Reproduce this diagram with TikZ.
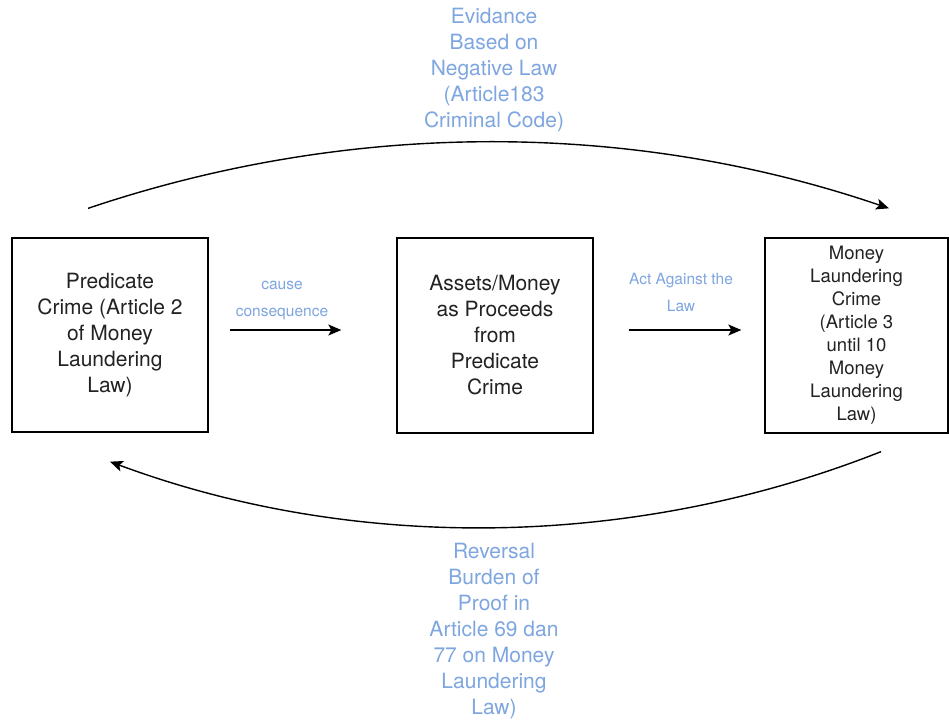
\documentclass[tikz,border=0pt]{standalone}
\usepackage{fontspec}
\setmainfont{TeX Gyre Heros}
\usetikzlibrary{arrows.meta}
\definecolor{lblue}{HTML}{7EA6E0}
\definecolor{txt}{HTML}{222222}
\begin{document}
\begin{tikzpicture}[x=1pt,y=-1pt,
  box/.style={draw=black, line width=1.3pt, text=txt, align=center, inner sep=0pt},
  boxfont/.style={font=\fontsize{21}{26}\selectfont},
  smallbox/.style={font=\fontsize{18.5}{23}\selectfont},
  lab/.style={text=lblue, align=center, font=\fontsize{21}{26}\selectfont, inner sep=0pt},
  slab/.style={text=lblue, align=center, font=\fontsize{15.5}{27}\selectfont, inner sep=0pt},
  arr/.style={draw=black, line width=1.4pt, -{Stealth[length=13pt,width=11pt,inset=3pt]}},
  curv/.style={draw=black, line width=1.4pt, -{Stealth[length=13pt,width=11pt,inset=3pt]}}]
\useasboundingbox (0,0) rectangle (949,722);
\fill[white] (0,0) rectangle (949,722);

\node[box, boxfont, minimum width=196pt, minimum height=194pt] (pc) at (110,335)
  {Predicate\\Crime (Article 2\\of Money\\Laundering\\Law)};
\node[box, boxfont, minimum width=196pt, minimum height=195pt] (mid) at (495,335.5)
  {Assets/Money\\as Proceeds\\from\\Predicate\\Crime};
\node[box, smallbox, minimum width=183pt, minimum height=195pt] (ml) at (856.5,335.5)
  {Money\\Laundering\\Crime\\(Article 3\\until 10\\Money\\Laundering\\Law)};

\node[slab] (l1) at (282,300.5) {cause\\consequence};
\node[slab] (l2) at (681,292.5) {Act Against the\\Law};

\node[lab] (top) at (494,70) {Evidance\\Based on\\Negative Law\\(Article183\\Criminal Code)};
\node[lab] (bot) at (494,631.5) {Reversal\\Burden of\\Proof in\\Article 69 dan\\77 on Money\\Laundering\\Law)};

\draw[arr] ([xshift=21pt,yshift=5pt]pc.east) -- ([xshift=-55pt,yshift=5.5pt]mid.west);
\draw[arr] ([xshift=35pt,yshift=5.5pt]mid.east) -- ([xshift=-23pt,yshift=5.5pt]ml.west);

\draw[curv] ([xshift=-22pt,yshift=29pt]pc.north) .. controls (350,120) and (630,120) .. ([xshift=32.5pt,yshift=29pt]ml.north);
\draw[curv] ([xshift=24.5pt,yshift=-18pt]ml.south) .. controls (630,551) and (350,551) .. ([yshift=-29pt]pc.south);
\end{tikzpicture}
\end{document}
